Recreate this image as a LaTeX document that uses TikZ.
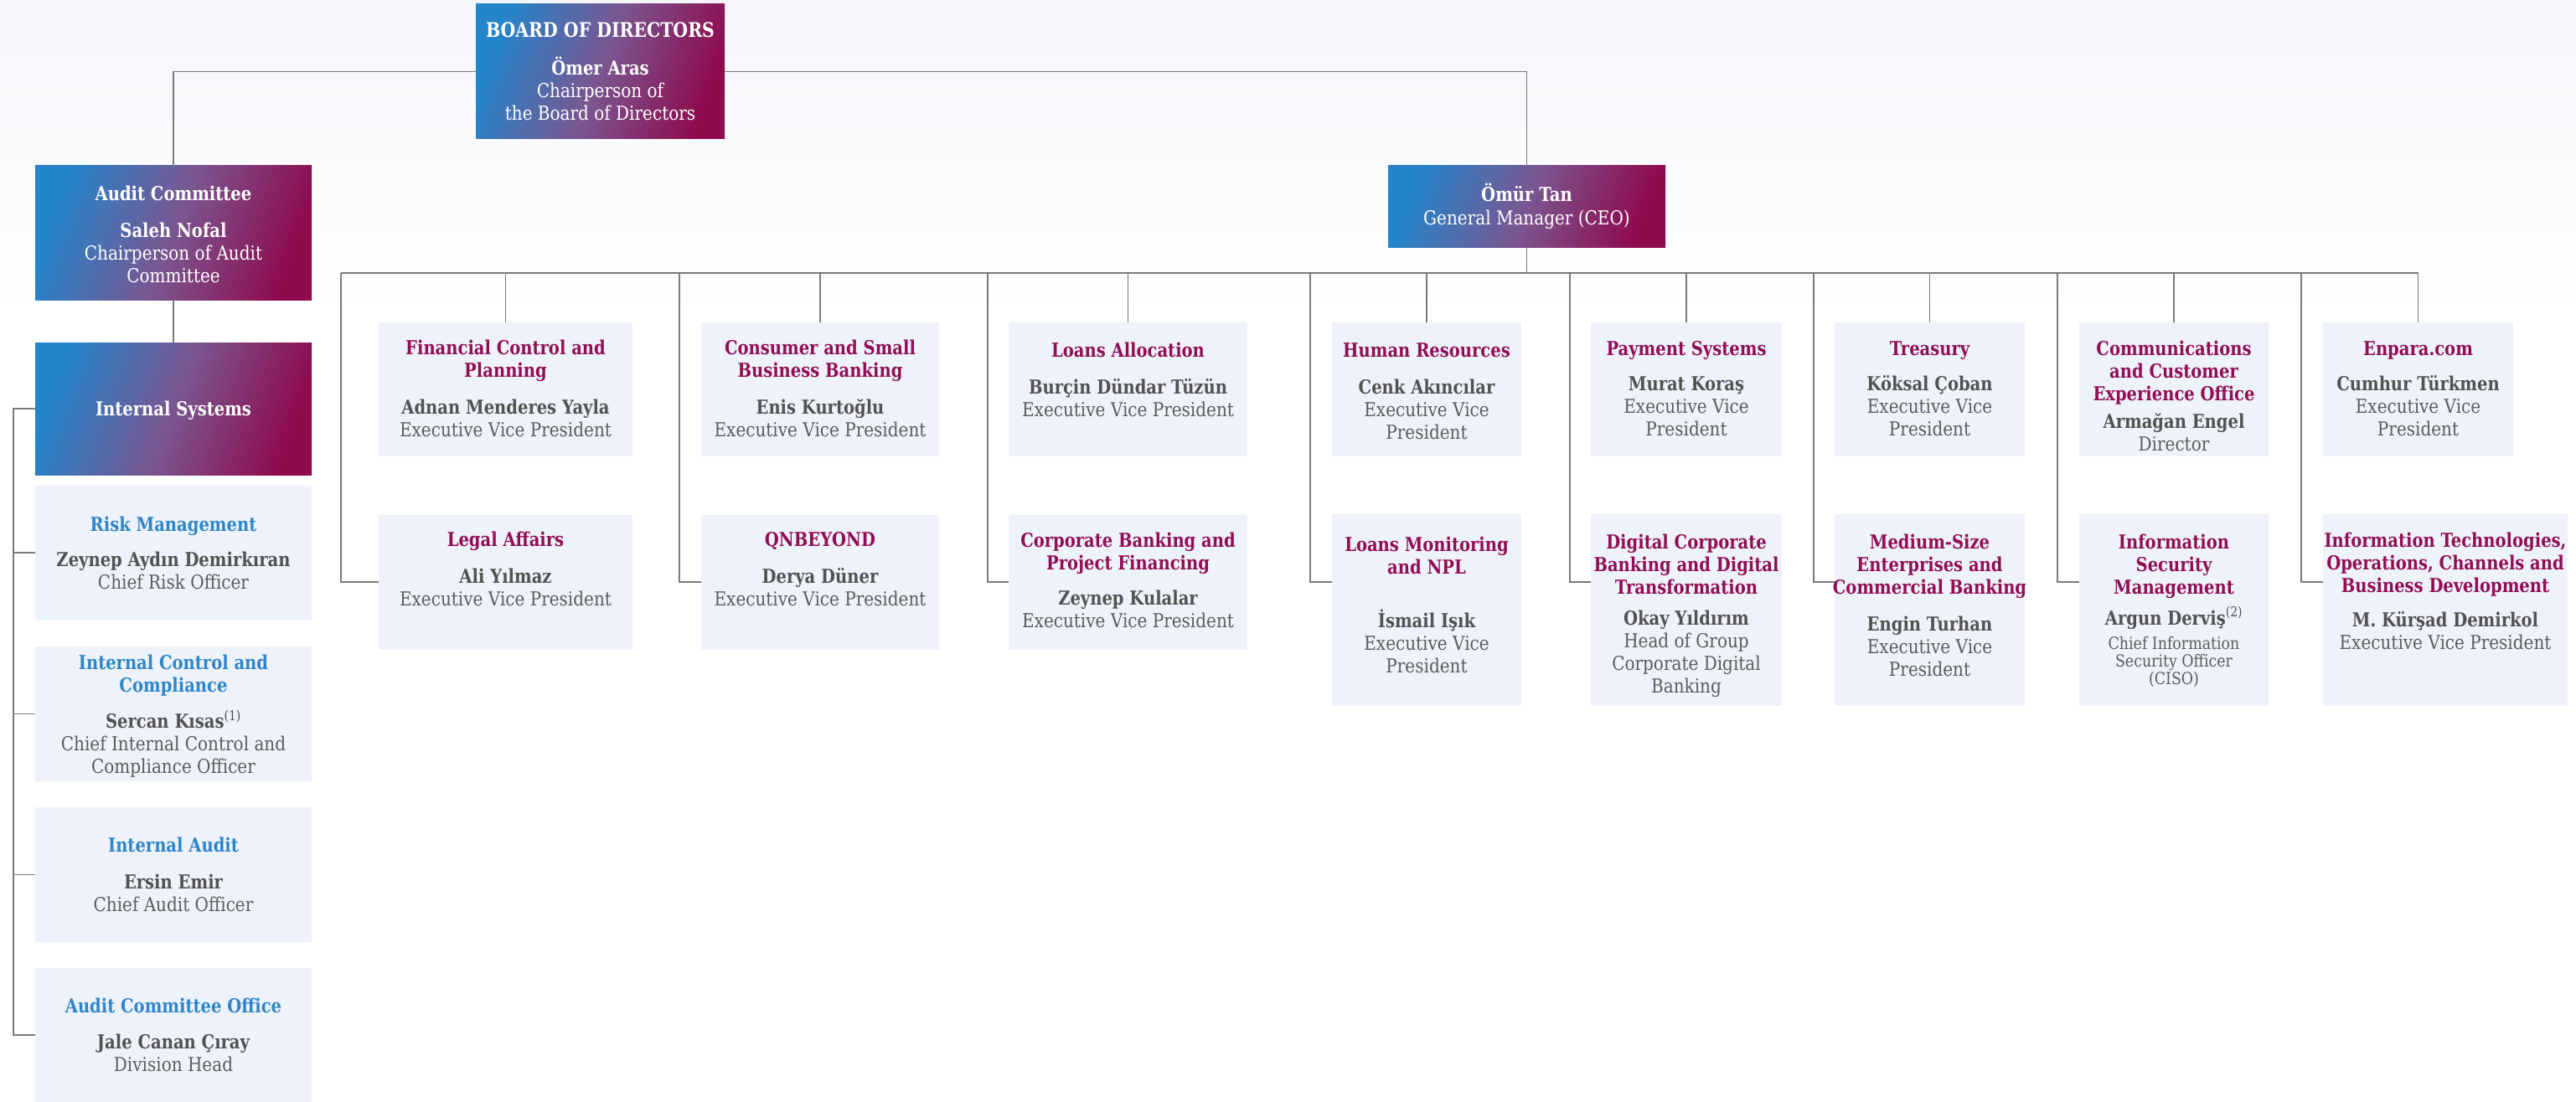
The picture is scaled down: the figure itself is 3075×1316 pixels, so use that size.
\documentclass[tikz,border=0pt]{standalone}
\usepackage{fontspec}
\setmainfont{DejaVu Serif}[FakeStretch=0.87, BoldFeatures={FakeStretch=0.85}]
\usetikzlibrary{calc}
\definecolor{magT}{HTML}{910E55}
\definecolor{blueT}{HTML}{2E86C8}
\definecolor{grayN}{HTML}{525252}
\definecolor{grayR}{HTML}{5C5C5C}
\definecolor{boxfill}{HTML}{EEF2FA}
\definecolor{lineC}{HTML}{7A7A7A}
\definecolor{gL}{HTML}{2485CA}
\definecolor{gM}{HTML}{7A5690}
\definecolor{gR}{HTML}{8E0B4E}
\definecolor{bgtop}{HTML}{F4F6FA}
\newcommand\ttlM[1]{{\color{magT}\bfseries #1}}
\newcommand\ttlB[1]{{\color{blueT}\bfseries #1}}
\newcommand\ttlW[1]{{\color{white}\bfseries #1}}
\newcommand\nmG[1]{{\color{grayN}\bfseries #1}}
\newcommand\nmW[1]{{\color{white}\bfseries #1}}
\newcommand\rlG[1]{{\color{grayR}#1}}
\newcommand\rlW[1]{{\color{white}#1}}
\newcommand\orgcard[5]{\node[txt] (#1) at (#2,#3) {\parbox[t]{#4pt}{\centering\fontsize{23}{27}\selectfont\leavevmode #5}};}
\tikzset{
  lbox/.style={fill=boxfill, draw=none, inner sep=0pt, outer sep=0pt, anchor=north west},
  gbox/.style={draw=none, inner sep=0pt, outer sep=0pt, anchor=north west, left color=gL, right color=gR, middle color=gM, shading angle=70},
  txt/.style={anchor=base, inner sep=0pt, outer sep=0pt},
  conn/.style={draw=lineC, line width=1.6pt}
}
\begin{document}
\begin{tikzpicture}[x=1pt,y=-1pt]
\useasboundingbox (0,0) rectangle (3075,1316);
\fill[white] (0,0) rectangle (3075,1316);
\shade[top color=bgtop, bottom color=white] (0,0) rectangle (3075,380);

% ---------- boxes ----------
\node[gbox, minimum width=297pt, minimum height=161pt] (bod) at (568,5) {};
\node[gbox, minimum width=330pt, minimum height=160pt] (audit) at (42,198) {};
\node[gbox, minimum width=330pt, minimum height=158pt] (intsys) at (42,409) {};
\node[gbox, minimum width=331pt, minimum height=97pt] (ceo) at (1657,198) {};

\node[lbox, minimum width=330pt, minimum height=160pt] (risk) at (42,580) {};
\node[lbox, minimum width=330pt, minimum height=161pt] (intctrl) at (42,772) {};
\node[lbox, minimum width=330pt, minimum height=161pt] (intaudit) at (42,964) {};
\node[lbox, minimum width=330pt, minimum height=160pt] (aco) at (42,1156) {};

\node[lbox, minimum width=303pt, minimum height=160pt] (fin) at (452,385) {};
\node[lbox, minimum width=284pt, minimum height=160pt] (cons) at (837,385) {};
\node[lbox, minimum width=285pt, minimum height=160pt] (lalloc) at (1204,385) {};
\node[lbox, minimum width=226pt, minimum height=160pt] (hr) at (1590,385) {};
\node[lbox, minimum width=228pt, minimum height=160pt] (pay) at (1899,385) {};
\node[lbox, minimum width=227pt, minimum height=160pt] (treas) at (2190,385) {};
\node[lbox, minimum width=226pt, minimum height=160pt] (comm) at (2482,385) {};
\node[lbox, minimum width=227pt, minimum height=160pt] (enp) at (2773,385) {};

\node[lbox, minimum width=303pt, minimum height=161pt] (legal) at (452,615) {};
\node[lbox, minimum width=284pt, minimum height=161pt] (qnb) at (837,615) {};
\node[lbox, minimum width=285pt, minimum height=161pt] (corp) at (1204,615) {};
\node[lbox, minimum width=226pt, minimum height=229pt] (lmon) at (1590,614) {};
\node[lbox, minimum width=228pt, minimum height=229pt] (dig) at (1899,614) {};
\node[lbox, minimum width=227pt, minimum height=229pt] (med) at (2190,614) {};
\node[lbox, minimum width=226pt, minimum height=229pt] (isec) at (2482,614) {};
\node[lbox, minimum width=292pt, minimum height=229pt] (itb) at (2773,614) {};

% ---------- connectors ----------
\coordinate (busL) at (407,326);
\coordinate (stub) at (0,695);
\coordinate (lv) at (16,0);
\coordinate (br1) at (407,326);
\coordinate (br2) at (811,326);
\coordinate (br3) at (1179,326);
\coordinate (br4) at (1564,326);
\coordinate (br5) at (1874,326);
\coordinate (br6) at (2165,326);
\coordinate (br7) at (2456,326);
\coordinate (br8) at (2747,326);

\draw[conn] (bod.west) -| (audit.north);
\draw[conn] (bod.east) -| (ceo.north);
\draw[conn] (audit.south) -- (intsys.north);
\draw[conn] (intsys.west) -- (intsys.west -| lv) |- (aco.west);
\draw[conn] (risk.west) -- (risk.west -| lv);
\draw[conn] (intctrl.west) -- (intctrl.west -| lv);
\draw[conn] (intaudit.west) -- (intaudit.west -| lv);
\draw[conn] (ceo.south) -- (ceo.south |- busL);
\draw[conn] (busL) -- (enp.north |- busL);
\foreach \a in {fin,cons,lalloc,hr,pay,treas,comm,enp}
  \draw[conn] (\a.north |- busL) -- (\a.north);
\draw[conn] (br1) |- (legal.west |- stub);
\draw[conn] (br2) |- (qnb.west |- stub);
\draw[conn] (br3) |- (corp.west |- stub);
\draw[conn] (br4) |- (lmon.west |- stub);
\draw[conn] (br5) |- (dig.west |- stub);
\draw[conn] (br6) |- (med.west |- stub);
\draw[conn] (br7) |- (isec.west |- stub);
\draw[conn] (br8) |- (itb.west |- stub);

% ---------- texts ----------
\orgcard{tbod}{716.5}{45}{330}{\ttlW{{\fontsize{24}{27}\selectfont BOARD OF DIRECTORS}}\\[18pt]\nmW{Ömer Aras}\\\rlW{Chairperson of\\the Board of Directors}}
\orgcard{taudit}{207}{239}{330}{\ttlW{Audit Committee}\\[17pt]\nmW{Saleh Nofal}\\\rlW{Chairperson of Audit\\Committee}}
\orgcard{tintsys}{207}{496.7}{330}{\ttlW{Internal Systems}}
\orgcard{tceo}{1822.5}{240.7}{330}{\nmW{Ömür Tan}\\[1pt]\rlW{General Manager (CEO)}}

\orgcard{trisk}{207}{634.7}{340}{\ttlB{Risk Management}\\[15pt]\nmG{Zeynep Aydın Demirkıran}\\\rlG{Chief Risk Officer}}
\orgcard{tintctrl}{207}{799.6}{340}{\ttlB{Internal Control and\\Compliance}\\[16pt]\nmG{Sercan Kısas\textsuperscript{\mdseries(1)}}\\\rlG{Chief Internal Control and\\Compliance Officer}}
\orgcard{tintaudit}{207}{1017}{340}{\ttlB{Internal Audit}\\[17pt]\nmG{Ersin Emir}\\\rlG{Chief Audit Officer}}
\orgcard{taco}{207}{1209.5}{340}{\ttlB{Audit Committee Office}\\[16pt]\nmG{Jale Canan Çıray}\\\rlG{Division Head}}

\orgcard{tfin}{603.5}{423}{330}{\ttlM{Financial Control and\\Planning}\\[17pt]\nmG{Adnan Menderes Yayla}\\\rlG{Executive Vice President}}
\orgcard{tcons}{979}{423}{330}{\ttlM{Consumer and Small\\Business Banking}\\[17pt]\nmG{Enis Kurtoğlu}\\\rlG{Executive Vice President}}
\orgcard{tlalloc}{1346.5}{426}{330}{\ttlM{Loans Allocation}\\[17pt]\nmG{Burçin Dündar Tüzün}\\\rlG{Executive Vice President}}
\orgcard{thr}{1703}{426}{300}{\ttlM{Human Resources}\\[17pt]\nmG{Cenk Akıncılar}\\\rlG{Executive Vice\\President}}
\orgcard{tpay}{2013}{424.6}{300}{\ttlM{Payment Systems}\\[15pt]\nmG{Murat Koraş}\\\rlG{Executive Vice\\President}}
\orgcard{ttreas}{2303.5}{424.6}{300}{\ttlM{Treasury}\\[15pt]\nmG{Köksal Çoban}\\\rlG{Executive Vice\\President}}
\orgcard{tcomm}{2595}{424.6}{300}{\ttlM{Communications\\and Customer\\Experience Office}\\[6pt]\nmG{Armağan Engel}\\\rlG{Director}}
\orgcard{tenp}{2886.5}{424.6}{300}{\ttlM{Enpara.com}\\[15pt]\nmG{Cumhur Türkmen}\\\rlG{Executive Vice\\President}}

\orgcard{tlegal}{603.5}{652.7}{330}{\ttlM{Legal Affairs}\\[17pt]\nmG{Ali Yılmaz}\\\rlG{Executive Vice President}}
\orgcard{tqnb}{979}{652.7}{330}{\ttlM{QNBEYOND}\\[17pt]\nmG{Derya Düner}\\\rlG{Executive Vice President}}
\orgcard{tcorp}{1346.5}{653.5}{330}{\ttlM{Corporate Banking and\\Project Financing}\\[15pt]\nmG{Zeynep Kulalar}\\\rlG{Executive Vice President}}
\orgcard{tlmon}{1703}{658}{300}{\ttlM{Loans Monitoring\\and NPL}\\[37pt]\nmG{İsmail Işık}\\\rlG{Executive Vice\\President}}
\orgcard{tdig}{2013}{655}{300}{\ttlM{Digital Corporate\\Banking and Digital\\Transformation}\\[10pt]\nmG{Okay Yıldırım}\\\rlG{Head of Group\\Corporate Digital\\Banking}}
\orgcard{tmed}{2303.5}{655}{300}{\ttlM{Medium-Size\\Enterprises and\\Commercial Banking}\\[17pt]\nmG{Engin Turhan}\\\rlG{Executive Vice\\President}}
\orgcard{tisec}{2595}{655}{300}{\ttlM{Information\\Security\\Management}\\[10pt]\nmG{Argun Derviş\textsuperscript{\mdseries(2)}}\par\vspace{8pt}{\fontsize{20}{21}\selectfont\rlG{Chief Information\\Security Officer\\(CISO)}\par}}
\orgcard{titb}{2919}{653.4}{340}{\ttlM{Information Technologies,\\Operations, Channels and\\Business Development}\\[14pt]\nmG{M. Kürşad Demirkol}\\\rlG{Executive Vice President}}
\end{tikzpicture}
\end{document}
